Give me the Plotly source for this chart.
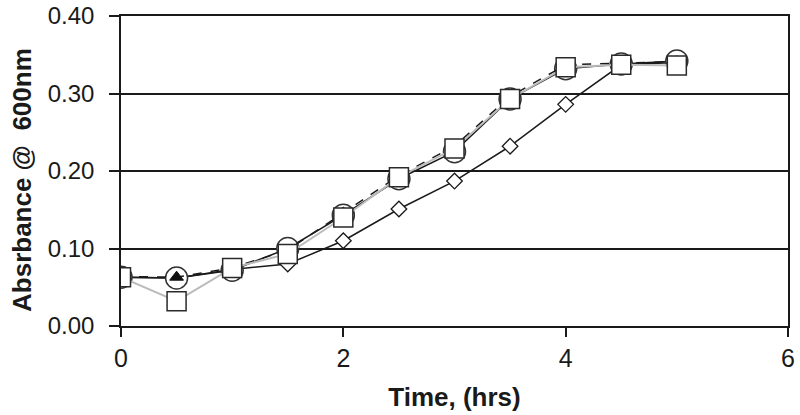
import plotly.graph_objects as go

time_hrs = [0, 0.5, 1, 1.5, 2, 2.5, 3, 3.5, 4, 4.5, 5]
diamond_vals = [0.063, 0.062, 0.073, 0.080, 0.110, 0.151, 0.187, 0.232, 0.286, 0.337, 0.340]
circle_vals = [0.063, 0.062, 0.072, 0.100, 0.143, 0.190, 0.225, 0.293, 0.332, 0.338, 0.342]
triangle_vals = [0.064, 0.063, 0.075, 0.098, 0.146, 0.194, 0.232, 0.296, 0.337, 0.339, 0.341]
square_vals = [0.063, 0.032, 0.075, 0.093, 0.140, 0.192, 0.229, 0.293, 0.334, 0.337, 0.336]

y_ticks = [0.0, 0.1, 0.2, 0.3, 0.4]
y_tick_labels = ["0.00", "0.10", "0.20", "0.30", "0.40"]
x_ticks = [0, 2, 4, 6]

font = "Liberation Sans, Arial, Helvetica, sans-serif"

fig = go.Figure()
fig.add_trace(go.Scatter(
    x=time_hrs, y=diamond_vals, mode="lines+markers",
    line=dict(color="#1a1a1a", width=1.5),
    marker=dict(symbol="diamond", size=12, color="white", line=dict(color="#1a1a1a", width=1.3)),
))
fig.add_trace(go.Scatter(
    x=time_hrs, y=circle_vals, mode="lines+markers",
    line=dict(color="#1a1a1a", width=1.5),
    marker=dict(symbol="circle", size=22, color="white", line=dict(color="#333333", width=1.5)),
))
fig.add_trace(go.Scatter(
    x=time_hrs, y=triangle_vals, mode="lines+markers",
    line=dict(color="#1a1a1a", width=1.5, dash="dash"),
    marker=dict(symbol="triangle-up", size=12, color="#111111", line=dict(color="#111111", width=1)),
))
fig.add_trace(go.Scatter(
    x=time_hrs, y=square_vals, mode="lines+markers",
    line=dict(color="#bbbbbb", width=2),
    marker=dict(symbol="square", size=19, color="white", line=dict(color="#2a2a2a", width=1.5)),
))
# invisible trace on overlay axis to draw inner half of crossing ticks
fig.add_trace(go.Scatter(x=[0], y=[0], yaxis="y2", mode="markers",
                         marker=dict(opacity=0), hoverinfo="skip"))

fig.update_layout(
    width=800, height=415,
    margin=dict(l=121, r=12, t=16, b=89),
    paper_bgcolor="white", plot_bgcolor="white",
    showlegend=False,
    font=dict(family=font, color="#1a1a1a"),
    xaxis=dict(
        range=[0, 6], tickvals=x_ticks, ticktext=[str(v) for v in x_ticks],
        ticks="outside", ticklen=9, tickwidth=1.5, tickcolor="#1a1a1a",
        showgrid=False, zeroline=False, automargin=False, ticklabeloverflow="allow",
        showline=True, linecolor="#1a1a1a", linewidth=1.5, mirror=True,
        tickfont=dict(size=25, family=font),
        title=dict(text="<b>Time, (hrs)</b>", font=dict(size=26, family=font), standoff=17),
    ),
    yaxis=dict(
        range=[0, 0.4], tickvals=y_ticks, ticktext=y_tick_labels,
        ticks="outside", ticklen=10, tickwidth=1.5, tickcolor="#1a1a1a",
        showgrid=True, gridcolor="#1a1a1a", gridwidth=1.5,
        zeroline=False, automargin=False, ticklabeloverflow="allow",
        showline=True, linecolor="#1a1a1a", linewidth=1.5, mirror=True,
        tickfont=dict(size=24, family=font), ticklabelstandoff=10,
    ),
    yaxis2=dict(
        range=[0, 0.4], tickvals=y_ticks, overlaying="y", side="left",
        ticks="inside", ticklen=10, tickwidth=1.5, tickcolor="#1a1a1a",
        showticklabels=False, showgrid=False, zeroline=False, showline=False,
        automargin=False,
    ),
    annotations=[dict(
        text="<b>Absrbance @  600nm</b>", textangle=-90,
        xref="paper", yref="paper", x=0, y=0.471, xshift=-99,
        xanchor="center", yanchor="middle", showarrow=False,
        font=dict(size=26, family=font, color="#1a1a1a"),
    )],
)

fig.write_html("out.html", config={"displayModeBar": False},
               post_script="document.body.style.margin='0';")
